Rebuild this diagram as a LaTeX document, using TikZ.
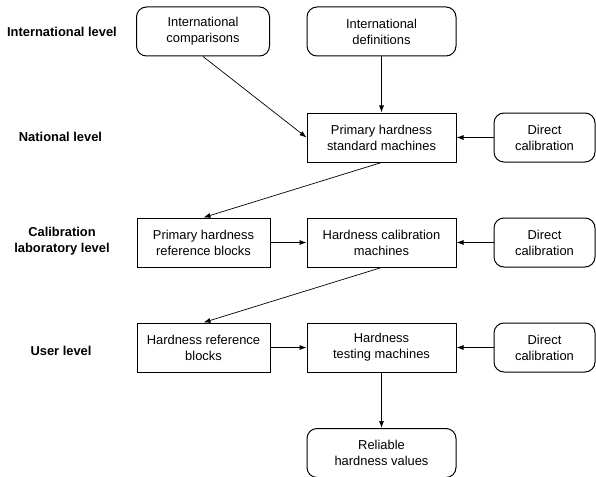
\documentclass[tikz,border=0pt]{standalone}
\usepackage{fontspec}
\setmainfont{Liberation Sans}
\usetikzlibrary{arrows.meta}
\begin{document}
\begin{tikzpicture}[x=1pt,y=-1pt,
  every node/.style={font=\fontsize{12.9}{16}\selectfont},
  box/.style={draw, line width=1pt, minimum height=49pt, align=center, inner sep=0pt},
  wide/.style={box, minimum width=149pt},
  narrow/.style={box, minimum width=133pt},
  small/.style={box, minimum width=101pt},
  rnd/.style={rounded corners=10pt},
  lvl/.style={font=\fontsize{12.9}{16}\selectfont\bfseries, align=center},
  conn/.style={-{Latex[length=7pt,width=5pt]}, line width=0.7pt}]
\useasboundingbox (0,0) rectangle (596,476);

% level labels
\node[lvl] (l1) at (62,32) {International level};
\node[lvl] (l2) at (60.5,137) {National level};
\node[lvl] (l3) at (62,241.5) {Calibration\\laboratory level};
\node[lvl] (l4) at (61,351) {User level};

% international
\node[narrow,rnd] (comp) at (203,31.5) {International\\comparisons};
\node[wide,rnd] (defs) at (381.5,31.5) {International\\definitions};

% national
\node[wide] (std) at (381.5,137.5) {Primary hardness\\standard machines};
\node[small,rnd] (dc1) at (544.5,137.5) {Direct\\calibration};

% calibration laboratory
\node[narrow] (prb) at (203.5,242.5) {Primary hardness\\reference blocks};
\node[wide] (hcm) at (381.5,242.5) {Hardness calibration\\machines};
\node[small,rnd] (dc2) at (544.5,242.5) {Direct\\calibration};

% user
\node[narrow] (hrb) at (203.5,347.5) {Hardness reference\\blocks};
\node[wide] (htm) at (381.5,347.5) {Hardness\\testing machines};
\node[small,rnd] (dc3) at (544.5,347.5) {Direct\\calibration};

\node[wide,rnd] (rhv) at (381.5,453) {Reliable\\hardness values};

% connectors
\draw[conn] (comp.south) -- (std.west);
\draw[conn] (defs) -- (std);
\draw[conn] (dc1) -- (std);
\draw[conn] (std.south) -- (prb.north);
\draw[conn] (prb) -- (hcm);
\draw[conn] (dc2) -- (hcm);
\draw[conn] (hcm.south) -- (hrb.north);
\draw[conn] (hrb) -- (htm);
\draw[conn] (dc3) -- (htm);
\draw[conn] (htm) -- (rhv);
\end{tikzpicture}
\end{document}
